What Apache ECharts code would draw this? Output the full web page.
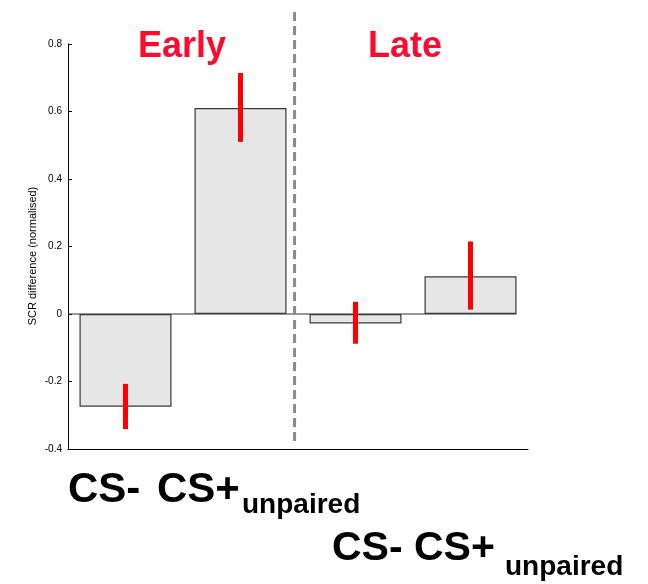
<!DOCTYPE html>
<html>
<head>
<meta charset="utf-8">
<script src="https://cdn.jsdelivr.net/npm/echarts@6/dist/echarts.min.js"></script>
<style>
  html, body { margin: 0; padding: 0; background: #fff; }
  #chart { width: 648px; height: 584px; }
</style>
</head>
<body>
<div id="chart"></div>
<script>
// ---- data ----
const categories = ['Early CS-', 'Early CS+unpaired', 'Late CS-', 'Late CS+unpaired'];
const meanValues = [-0.275, 0.61, -0.028, 0.112];
const errorLow  = [-0.341, 0.51, -0.088, 0.013];
const errorHigh = [-0.207, 0.714, 0.036, 0.215];
const yTicks = [-0.4, -0.2, 0, 0.2, 0.4, 0.6, 0.8];
const phaseTitles = ['Early', 'Late'];
const rowLabelMain = ['CS-', 'CS+'];
const rowLabelSub = 'unpaired';
const yAxisTitle = 'SCR difference (normalised)';
// separator between phases (in bar-slot units) and its vertical extent
const separatorX = [1.97, 1.97];
const separatorY = [0.895, -0.388];
// baseline drawn under the bars (bar-slot units)
const baselineX = [0, 3.9];
const baselineY = [0, 0];

const FONT = '"Liberation Sans", Arial, Helvetica, sans-serif';
const RED = '#ff0a2f';

const chart = echarts.init(document.getElementById('chart'), null, { renderer: 'canvas' });

const errorData = categories.map((c, i) => [i, errorLow[i], errorHigh[i]]);

const option = {
  animation: false,
  backgroundColor: '#ffffff',
  grid: { left: 68, right: 120, top: 44, bottom: 135, containLabel: false },
  xAxis: [
    {
      type: 'category',
      data: categories,
      axisLine: { show: true, onZero: false, lineStyle: { color: '#000', width: 1 } },
      axisTick: { show: false },
      axisLabel: { show: false },
      splitLine: { show: false }
    },
    {
      type: 'value',
      min: 0, max: 4,
      show: false
    }
  ],
  yAxis: {
    type: 'value',
    min: yTicks[0],
    max: yTicks[yTicks.length - 1],
    interval: 0.2,
    axisLine: { show: true, lineStyle: { color: '#000', width: 1 } },
    axisTick: { show: true, inside: true, length: 4, lineStyle: { color: '#000' } },
    axisLabel: {
      color: '#000', fontSize: 10, fontFamily: FONT, margin: 6,
      formatter: v => {
        const r = Math.round(v * 10) / 10;
        return r === 0 ? '0' : String(r);
      }
    },
    splitLine: { show: false }
  },
  series: [
    {
      type: 'line',
      xAxisIndex: 1,
      data: baselineX.map((x, i) => [x, baselineY[i]]),
      symbol: 'none',
      lineStyle: { color: '#333', width: 1 },
      z: 1,
      silent: true
    },
    {
      type: 'bar',
      data: meanValues,
      barWidth: '80%',
      itemStyle: { color: '#e6e6e6', borderColor: '#3a3a3a', borderWidth: 1.2 },
      z: 2
    },
    {
      type: 'custom',
      data: errorData,
      renderItem: (params, api) => {
        const lo = api.coord([api.value(0), api.value(1)]);
        const hi = api.coord([api.value(0), api.value(2)]);
        return {
          type: 'line',
          shape: { x1: lo[0], y1: lo[1], x2: hi[0], y2: hi[1] },
          style: { stroke: '#ff0000', lineWidth: 5 }
        };
      },
      z: 5
    },
    {
      type: 'line',
      xAxisIndex: 1,
      data: separatorX.map((x, i) => [x, separatorY[i]]),
      symbol: 'none',
      clip: false,
      lineStyle: { color: '#8c8c8c', width: 3, type: [9, 5] },
      z: 4,
      silent: true
    }
  ],
  graphic: [
    // axis title
    { type: 'text', x: 33, y: 256, rotation: Math.PI / 2,
      style: { text: yAxisTitle, fontSize: 11, fontFamily: FONT, fill: '#000', align: 'center', verticalAlign: 'middle' } },
    // phase titles
    { type: 'text', x: 138, y: 47,
      style: { text: phaseTitles[0], fontSize: 36, fontWeight: 'bold', fontFamily: FONT, fill: RED, align: 'left', verticalAlign: 'middle' } },
    { type: 'text', x: 368, y: 47,
      style: { text: phaseTitles[1], fontSize: 36, fontWeight: 'bold', fontFamily: FONT, fill: RED, align: 'left', verticalAlign: 'middle' } },
    // row 1 labels
    { type: 'text', x: 68, y: 490,
      style: { text: rowLabelMain[0], fontSize: 42, fontWeight: 'bold', fontFamily: FONT, fill: '#000', align: 'left', verticalAlign: 'middle' } },
    { type: 'text', x: 157, y: 490,
      style: { text: rowLabelMain[1], fontSize: 42, fontWeight: 'bold', fontFamily: FONT, fill: '#000', align: 'left', verticalAlign: 'middle' } },
    { type: 'text', x: 242, y: 505,
      style: { text: rowLabelSub, fontSize: 28, fontWeight: 'bold', fontFamily: FONT, fill: '#000', align: 'left', verticalAlign: 'middle' } },
    // row 2 labels
    { type: 'text', x: 332, y: 549,
      style: { text: rowLabelMain[0], fontSize: 41, fontWeight: 'bold', fontFamily: FONT, fill: '#000', align: 'left', verticalAlign: 'middle' } },
    { type: 'text', x: 414, y: 549,
      style: { text: rowLabelMain[1], fontSize: 41, fontWeight: 'bold', fontFamily: FONT, fill: '#000', align: 'left', verticalAlign: 'middle' } },
    { type: 'text', x: 505, y: 567,
      style: { text: rowLabelSub, fontSize: 28, fontWeight: 'bold', fontFamily: FONT, fill: '#000', align: 'left', verticalAlign: 'middle' } }
  ]
};

chart.setOption(option);
</script>
</body>
</html>
